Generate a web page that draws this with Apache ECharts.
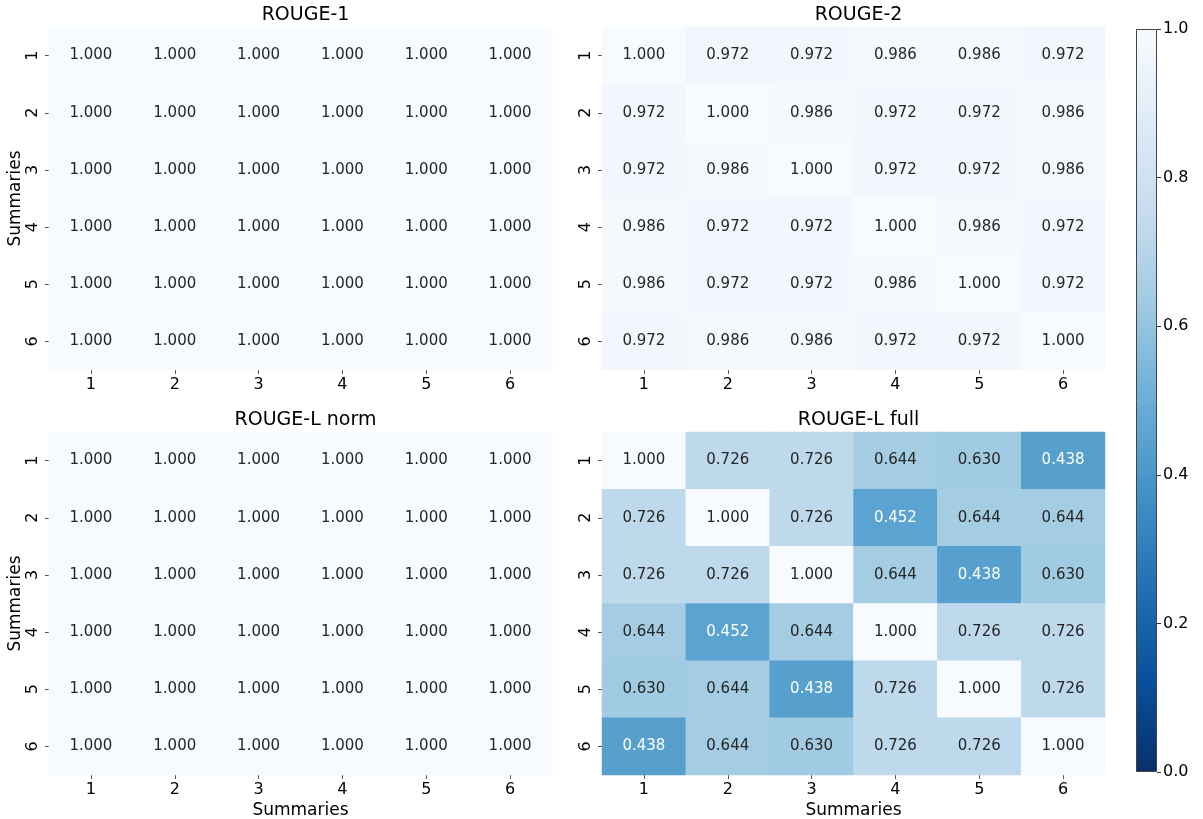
<!DOCTYPE html>
<html>
<head>
<meta charset="utf-8">
<script src="https://cdn.jsdelivr.net/npm/echarts@6/dist/echarts.min.js"></script>
<style>
html, body { margin: 0; padding: 0; background: #fff; }
#container { width: 1203px; height: 819px; }
</style>
</head>
<body>
<div id="container"></div>
<script>
var labels = ['1', '2', '3', '4', '5', '6'];
var titles = ['ROUGE-1', 'ROUGE-2', 'ROUGE-L norm', 'ROUGE-L full'];

var rouge1 = [
    [1.000, 1.000, 1.000, 1.000, 1.000, 1.000],
    [1.000, 1.000, 1.000, 1.000, 1.000, 1.000],
    [1.000, 1.000, 1.000, 1.000, 1.000, 1.000],
    [1.000, 1.000, 1.000, 1.000, 1.000, 1.000],
    [1.000, 1.000, 1.000, 1.000, 1.000, 1.000],
    [1.000, 1.000, 1.000, 1.000, 1.000, 1.000]
];
var rouge2 = [
    [1.000, 0.972, 0.972, 0.986, 0.986, 0.972],
    [0.972, 1.000, 0.986, 0.972, 0.972, 0.986],
    [0.972, 0.986, 1.000, 0.972, 0.972, 0.986],
    [0.986, 0.972, 0.972, 1.000, 0.986, 0.972],
    [0.986, 0.972, 0.972, 0.986, 1.000, 0.972],
    [0.972, 0.986, 0.986, 0.972, 0.972, 1.000]
];
var rougeLNorm = [
    [1.000, 1.000, 1.000, 1.000, 1.000, 1.000],
    [1.000, 1.000, 1.000, 1.000, 1.000, 1.000],
    [1.000, 1.000, 1.000, 1.000, 1.000, 1.000],
    [1.000, 1.000, 1.000, 1.000, 1.000, 1.000],
    [1.000, 1.000, 1.000, 1.000, 1.000, 1.000],
    [1.000, 1.000, 1.000, 1.000, 1.000, 1.000]
];
var rougeLFull = [
    [1.000, 0.726, 0.726, 0.644, 0.630, 0.438],
    [0.726, 1.000, 0.726, 0.452, 0.644, 0.644],
    [0.726, 0.726, 1.000, 0.644, 0.438, 0.630],
    [0.644, 0.452, 0.644, 1.000, 0.726, 0.726],
    [0.630, 0.644, 0.438, 0.726, 1.000, 0.726],
    [0.438, 0.644, 0.630, 0.726, 0.726, 1.000]
];
var colorbarTicks = [0, 0.2, 0.4, 0.6, 0.8, 1.0];

// Blues_r
var blues = ['#08306b', '#08519c', '#2171b5', '#4292c6', '#6baed6', '#9ecae1', '#c6dbef', '#deebf7', '#f7fbff'];

window.onload = function()
{
var myChart = echarts.init(document.getElementById('container'), null, {renderer: 'canvas'});

var matrices = [rouge1, rouge2, rougeLNorm, rougeLFull];
var grids = [
    {left: 49, top: 27, width: 503, height: 343, outerBoundsMode: 'none'},
    {left: 602, top: 27, width: 503, height: 343, outerBoundsMode: 'none'},
    {left: 49, top: 432, width: 503, height: 343, outerBoundsMode: 'none'},
    {left: 602, top: 432, width: 503, height: 343, outerBoundsMode: 'none'}
];

function toData(m) {
    var out = [];
    for (var r = 0; r < m.length; r++) {
        for (var c = 0; c < m[r].length; c++) {
            var v = m[r][c];
            out.push({
                value: [c, r, v],
                label: {color: v < 0.5 ? '#ffffff' : '#262626'}
            });
        }
    }
    return out;
}

var xAxes = [], yAxes = [], series = [], titleList = [];
for (var i = 0; i < 4; i++) {
    var bottomRow = i >= 2, leftCol = i % 2 === 0;
    xAxes.push({
        type: 'category', gridIndex: i, data: labels,
        name: bottomRow ? 'Summaries' : '',
        nameLocation: 'middle', nameGap: 27,
        nameTextStyle: {fontSize: 17, color: '#000', fontFamily: 'DejaVu Sans'},
        axisLine: {show: false},
        axisTick: {show: true, alignWithLabel: true, length: 4, lineStyle: {color: '#555'}},
        axisLabel: {fontSize: 16, color: '#000', margin: 7, fontFamily: 'DejaVu Sans'},
        splitLine: {show: false}
    });
    yAxes.push({
        type: 'category', gridIndex: i, data: labels, inverse: true,
        name: leftCol ? 'Summaries' : '',
        nameLocation: 'middle', nameGap: 25, nameRotate: 90,
        nameTextStyle: {fontSize: 17, color: '#000', fontFamily: 'DejaVu Sans'},
        axisLine: {show: false},
        axisTick: {show: true, alignWithLabel: true, length: 4, lineStyle: {color: '#555'}},
        axisLabel: {fontSize: 16, color: '#000', margin: 8, rotate: 90, fontFamily: 'DejaVu Sans'},
        splitLine: {show: false}
    });
    series.push({
        type: 'heatmap', name: titles[i],
        xAxisIndex: i, yAxisIndex: i,
        data: toData(matrices[i]),
        label: {
            show: true, fontSize: 15, fontFamily: 'DejaVu Sans',
            formatter: function (p) { return p.value[2].toFixed(3); }
        },
        emphasis: {disabled: true}
    });
    titleList.push({
        text: titles[i],
        left: grids[i].left + grids[i].width / 2,
        top: bottomRow ? 406 : 1,
        textAlign: 'center',
        textStyle: {fontSize: 19, fontWeight: 'normal', color: '#000', fontFamily: 'DejaVu Sans'}
    });
}

// colorbar
grids.push({left: 1136, top: 29, width: 21, height: 743, outerBoundsMode: 'none'});
xAxes.push({type: 'category', gridIndex: 4, data: ['c'], show: false});
yAxes.push({
    type: 'value', gridIndex: 4, min: 0, max: 1, interval: 0.2, position: 'right',
    axisLine: {show: false},
    axisTick: {show: true, length: 4, lineStyle: {color: '#333'}},
    axisLabel: {fontSize: 16, color: '#000', margin: 6, fontFamily: 'DejaVu Sans',
        formatter: function (v) { return v.toFixed(1); }},
    splitLine: {show: false}
});
var stops = blues.map(function (c, k) {
    return {offset: 1 - k / (blues.length - 1), color: c};
}).reverse();
series.push({
    type: 'bar', xAxisIndex: 4, yAxisIndex: 4,
    data: [colorbarTicks[colorbarTicks.length - 1]],
    barWidth: '100%', silent: true,
    itemStyle: {
        color: new echarts.graphic.LinearGradient(0, 0, 0, 1, stops),
        borderColor: '#444', borderWidth: 1
    }
});

option = {
    backgroundColor: '#fff',
    animation: false,
    title: titleList,
    grid: grids,
    xAxis: xAxes,
    yAxis: yAxes,
    visualMap: {
        type: 'continuous', show: false, min: 0, max: 1,
        seriesIndex: [0, 1, 2, 3], dimension: 2,
        inRange: {color: blues}
    },
    series: series
};

myChart.setOption(option);
};
</script>
</body>
</html>
